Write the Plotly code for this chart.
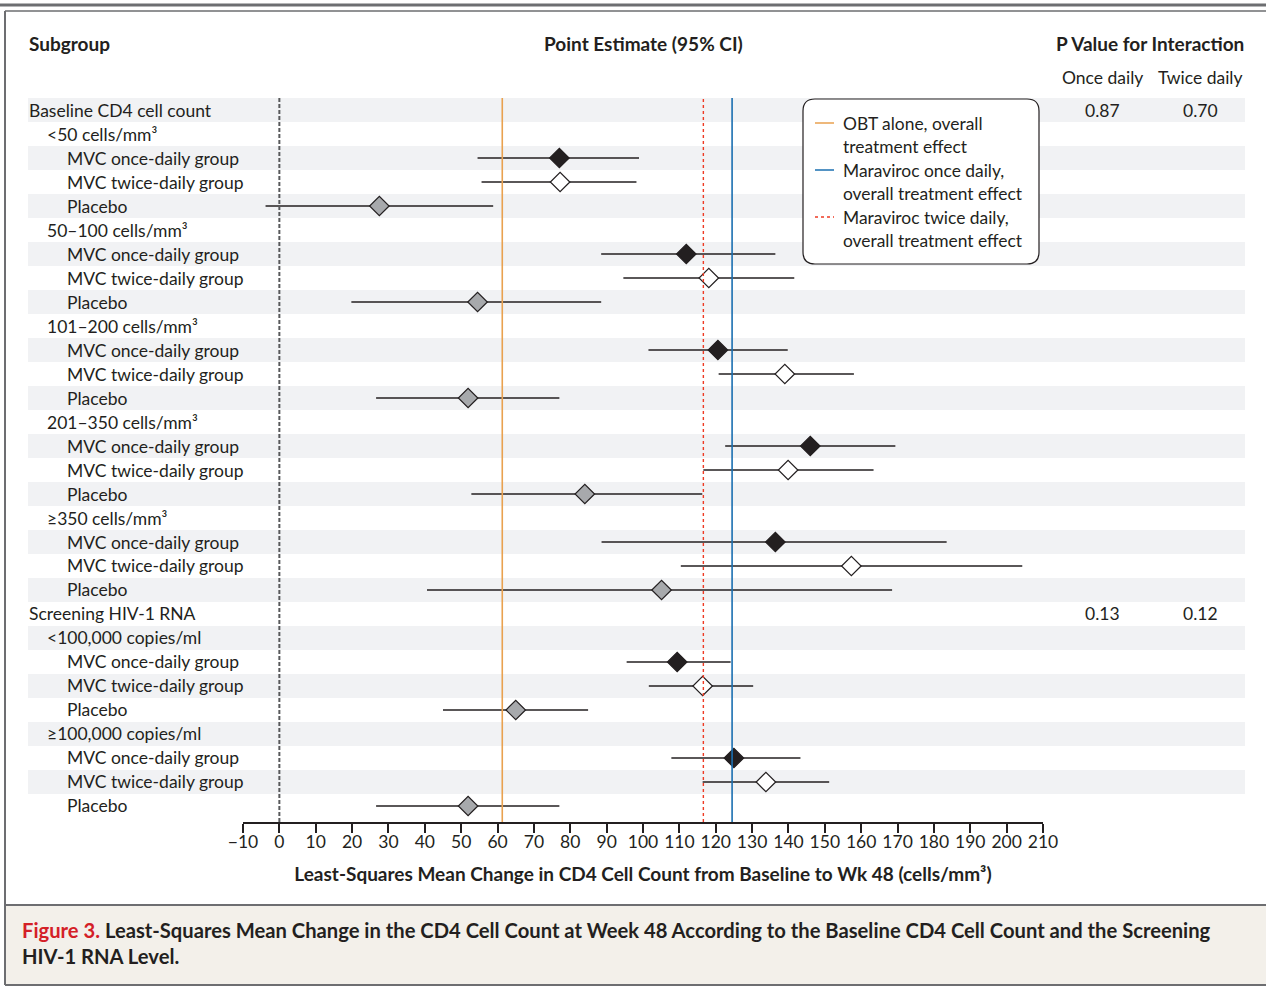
import plotly.graph_objects as go

# ---------------- data ----------------
section_titles = ["Baseline CD4 cell count", "Screening HIV-1 RNA"]
section_sizes = [5, 2]
subgroups = ["<50 cells/mm³", "50–100 cells/mm³", "101–200 cells/mm³",
             "201–350 cells/mm³", "≥350 cells/mm³",
             "<100,000 copies/ml", "≥100,000 copies/ml"]
arm_labels = ["MVC once-daily group", "MVC twice-daily group", "Placebo"]

once_est = [77.0, 111.9, 120.6, 146.0, 136.4, 109.4, 125.0]
once_lo = [54.5, 88.5, 101.5, 122.6, 88.6, 95.5, 107.8]
once_hi = [98.9, 136.4, 139.8, 169.4, 183.5, 124.1, 143.3]

twice_est = [77.2, 118.1, 139.0, 139.9, 157.3, 116.4, 133.8]
twice_lo = [55.6, 94.6, 120.8, 116.6, 110.4, 101.6, 116.4]
twice_hi = [98.2, 141.6, 158.0, 163.4, 204.3, 130.3, 151.2]

placebo_est = [27.5, 54.5, 51.9, 84.0, 105.1, 65.0, 51.9]
placebo_lo = [-3.8, 19.8, 26.6, 52.8, 40.6, 45.0, 26.6]
placebo_hi = [58.8, 88.5, 77.0, 116.3, 168.5, 84.9, 77.0]

pval_once = ["0.87", "0.13"]
pval_twice = ["0.70", "0.12"]

ref_names = ["OBT alone, overall<br>treatment effect",
             "Maraviroc once daily,<br>overall treatment effect",
             "Maraviroc twice daily,<br>overall treatment effect"]
ref_values = [61.3, 124.5, 116.6]

tick_values = list(range(-10, 211, 10))

# ---------------- layout helpers ----------------
W, H = 1266, 987
PL, PR = 243, 1043      # plot area x in pixels
PT, PB = 98, 822        # plot area y in pixels
FONT = "Lato, 'Open Sans', sans-serif"
INK = "#231f20"

def px(x):
    return (x - PL) / (PR - PL)

def py(y):
    return (PB - y) / (PB - PT)

# ---------------- build rows ----------------
rows = []          # (label, level)
section_rows = []
arm_rows = {0: [], 1: [], 2: []}
k = 0
for s, title in enumerate(section_titles):
    section_rows.append(len(rows))
    rows.append((title, 0))
    for j in range(section_sizes[s]):
        rows.append((subgroups[k], 1))
        for a, lab in enumerate(arm_labels):
            arm_rows[a].append(len(rows))
            rows.append((lab, 2))
        k += 1
n_rows = len(rows)

fig = go.Figure()

def diff(a, b):
    return [x - y for x, y in zip(a, b)]

series = [
    (once_est, once_lo, once_hi, INK, arm_rows[0]),
    (twice_est, twice_lo, twice_hi, "white", arm_rows[1]),
    (placebo_est, placebo_lo, placebo_hi, "#a7a9ac", arm_rows[2]),
]
for est, lo, hi, fill, yrows in series:
    fig.add_trace(go.Scatter(
        x=est, y=yrows, mode="markers", showlegend=False,
        marker=dict(symbol="diamond", size=15, color=fill,
                    line=dict(color=INK, width=1.2)),
        error_x=dict(type="data", symmetric=False,
                     array=diff(hi, est), arrayminus=diff(est, lo),
                     width=0, thickness=1.5, color=INK),
        hoverinfo="skip"))

shapes = []
# shaded bands
for r in range(0, n_rows, 2):
    shapes.append(dict(type="rect", xref="paper", yref="y",
                       x0=px(28), x1=px(1245), y0=r - 0.5, y1=r + 0.5,
                       fillcolor="#f1f2f4", line=dict(width=0), layer="below"))
# zero line
shapes.append(dict(type="line", xref="x", yref="paper", x0=0, x1=0, y0=0, y1=1,
                   line=dict(color="#58595b", width=2, dash="4px,2px")))
ref_styles = [("#e9a14f", "solid", 1.6), ("#1a6fb0", "solid", 1.6), ("#ee3b24", "dot", 1.4)]
for v, (c, d, w) in zip(ref_values, ref_styles):
    shapes.append(dict(type="line", xref="x", yref="paper", x0=v, x1=v, y0=0, y1=1,
                       line=dict(color=c, width=w, dash=d)))

# legend box (rounded)
lx0, lx1, ly0, ly1, rr = 803, 1039, 99, 264, 12
path = (f"M {px(lx0+rr)} {py(ly0)} L {px(lx1-rr)} {py(ly0)} "
        f"Q {px(lx1)} {py(ly0)} {px(lx1)} {py(ly0+rr)} "
        f"L {px(lx1)} {py(ly1-rr)} Q {px(lx1)} {py(ly1)} {px(lx1-rr)} {py(ly1)} "
        f"L {px(lx0+rr)} {py(ly1)} Q {px(lx0)} {py(ly1)} {px(lx0)} {py(ly1-rr)} "
        f"L {px(lx0)} {py(ly0+rr)} Q {px(lx0)} {py(ly0)} {px(lx0+rr)} {py(ly0)} Z")
shapes.append(dict(type="path", xref="paper", yref="paper", path=path,
                   fillcolor="white", line=dict(color=INK, width=1.2)))
annotations = []
for i, (name, (c, d, w)) in enumerate(zip(ref_names, ref_styles)):
    yl = 123 + 47 * i
    shapes.append(dict(type="line", xref="paper", yref="paper",
                       x0=px(815), x1=px(834), y0=py(yl), y1=py(yl),
                       line=dict(color=c, width=1.5, dash=d)))
    annotations.append(dict(xref="paper", yref="paper", x=px(841), y=py(yl - 12),
                            xanchor="left", yanchor="top", align="left",
                            text=name, showarrow=False,
                            font=dict(family=FONT, size=17.4, color=INK)))

# frame
shapes += [
    dict(type="line", xref="paper", yref="paper", x0=px(0), x1=px(W), y0=py(5), y1=py(5),
         line=dict(color="#6d6e71", width=3)),
    dict(type="line", xref="paper", yref="paper", x0=px(5), x1=px(W), y0=py(11), y1=py(11),
         line=dict(color="#6d6e71", width=1.5)),
    dict(type="rect", xref="paper", yref="paper", x0=px(5), x1=px(W + 5), y0=py(905), y1=py(985),
         fillcolor="#f3f0ea", line=dict(width=0)),
    dict(type="line", xref="paper", yref="paper", x0=px(5), x1=px(W), y0=py(905), y1=py(905),
         line=dict(color="#6d6e71", width=2)),
    dict(type="line", xref="paper", yref="paper", x0=px(5), x1=px(W), y0=py(985), y1=py(985),
         line=dict(color="#6d6e71", width=2)),
    dict(type="line", xref="paper", yref="paper", x0=px(5), x1=px(5), y0=py(11), y1=py(985),
         line=dict(color="#6d6e71", width=2)),
]

# row labels
indent = {0: 27, 1: 45, 2: 65}
for r, (lab, lev) in enumerate(rows):
    annotations.append(dict(xref="paper", yref="y", x=px(indent[lev]), y=r,
                            xanchor="left", yanchor="middle", text=lab, showarrow=False,
                            font=dict(family=FONT, size=17.5, color=INK)))
# p values
for r, a, b in zip(section_rows, pval_once, pval_twice):
    for xc, t in ((1102, a), (1200, b)):
        annotations.append(dict(xref="paper", yref="y", x=px(xc), y=r,
                                xanchor="center", yanchor="middle", text=t, showarrow=False,
                                font=dict(family=FONT, size=17.5, color=INK)))

# headers
hdr = dict(family=FONT, size=19, color=INK)
annotations += [
    dict(xref="paper", yref="paper", x=px(27), y=py(44), xanchor="left", yanchor="middle",
         text="<b>Subgroup</b>", showarrow=False, font=hdr),
    dict(xref="paper", yref="paper", x=px(643), y=py(44), xanchor="center", yanchor="middle",
         text="<b>Point Estimate (95% CI)</b>", showarrow=False, font=hdr),
    dict(xref="paper", yref="paper", x=px(1246), y=py(44), xanchor="right", yanchor="middle",
         text="<b>P Value for Interaction</b>", showarrow=False, font=hdr),
    dict(xref="paper", yref="paper", x=px(1102), y=py(77), xanchor="center", yanchor="middle",
         text="Once daily", showarrow=False, font=dict(family=FONT, size=17.5, color=INK)),
    dict(xref="paper", yref="paper", x=px(1200), y=py(77), xanchor="center", yanchor="middle",
         text="Twice daily", showarrow=False, font=dict(family=FONT, size=17.5, color=INK)),
    dict(xref="paper", yref="paper", x=px(20), y=py(916), xanchor="left", yanchor="top",
         align="left", showarrow=False,
         text=("<b><span style='color:#d42027'>Figure 3.</span> Least-Squares Mean Change in the CD4 "
               "Cell Count at Week 48 According to the Baseline CD4 Cell Count and the Screening"
               "<br>HIV-1 RNA Level.</b>"),
         font=dict(family=FONT, size=20.2, color=INK)),
]

fig.update_layout(
    width=W, height=H,
    margin=dict(l=PL, r=W - PR, t=PT, b=H - PB, pad=0),
    paper_bgcolor="white", plot_bgcolor="rgba(0,0,0,0)",
    showlegend=False,
    shapes=shapes, annotations=annotations,
    xaxis=dict(range=[-10, 210], tickvals=tick_values, ticks="outside", ticklen=9,
               tickwidth=1.5, tickcolor=INK, showline=True, linecolor=INK, linewidth=1.5,
               showgrid=False, zeroline=False, fixedrange=True, ticklabelstandoff=-6,
               tickfont=dict(family=FONT, size=17.5, color=INK),
               title=dict(text="<b>Least-Squares Mean Change in CD4 Cell Count from Baseline to Wk 48 (cells/mm³)</b>",
                          font=dict(family=FONT, size=19, color=INK), standoff=17)),
    yaxis=dict(range=[29.667, -0.5], visible=False, fixedrange=True),
)

fig.write_html("out.html", config={"displayModeBar": False},
               post_script="document.body.style.margin='0';")
